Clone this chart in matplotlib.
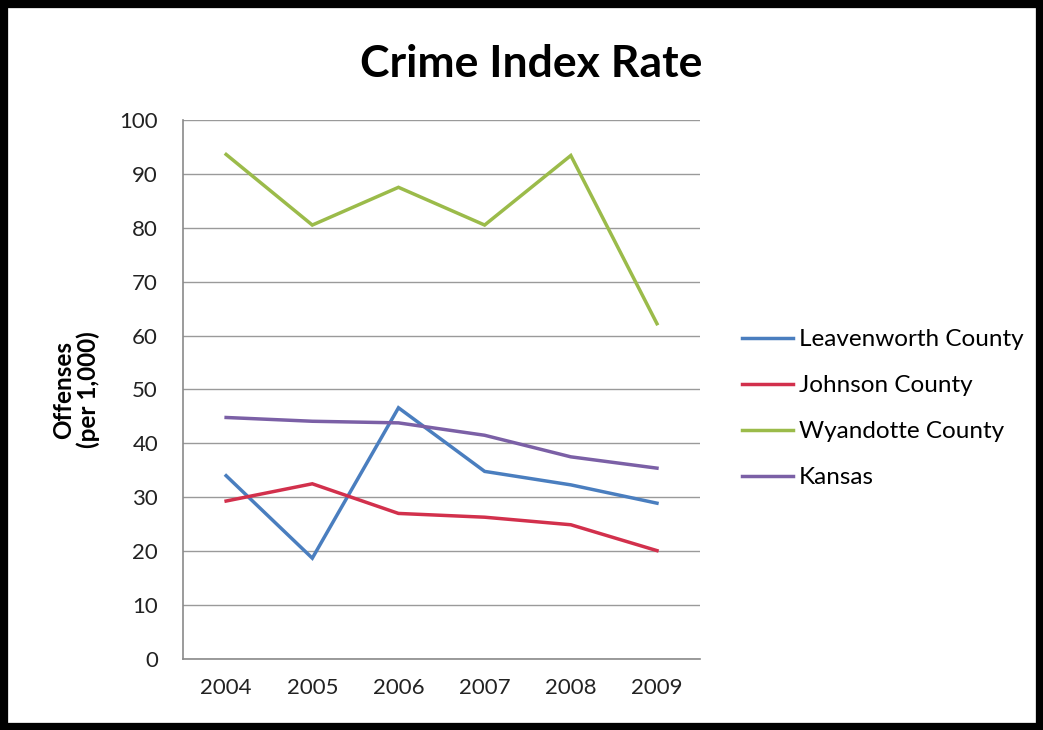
import numpy as np
import matplotlib
matplotlib.use("Agg")
from matplotlib import pyplot as plt
from matplotlib.patches import Rectangle

# data
years = ["2004", "2005", "2006", "2007", "2008", "2009"]
leavenworth = [34.0, 18.7, 46.6, 34.8, 32.3, 28.9]
johnson = [29.3, 32.5, 27.0, 26.3, 24.9, 20.1]
wyandotte = [93.6, 80.5, 87.5, 80.5, 93.4, 62.2]
kansas = [44.8, 44.1, 43.8, 41.5, 37.5, 35.4]

series_names = ["Leavenworth County", "Johnson County", "Wyandotte County", "Kansas"]
series_colors = ["#4A7EBF", "#D2304C", "#9BBB4A", "#7B60A6"]

plt.rcParams['font.family'] = ['Lato', 'DejaVu Sans']

fig = plt.figure(figsize=(10.43, 7.30), dpi=100)
ax = fig.add_axes([0.1755, 0.0973, 0.4957, 0.7384])

x = np.arange(len(years))
for vals, name, col in zip([leavenworth, johnson, wyandotte, kansas], series_names, series_colors):
    ax.plot(x, vals, color=col, lw=2.5, label=name, solid_joinstyle='miter')

ax.set_xlim(-0.5, len(years) - 0.5)
ax.set_ylim(0, 100)
ax.set_yticks(np.arange(0, 101, 10))
ax.set_xticks(x)
ax.set_xticklabels(years)
ax.grid(axis='y', color='#9A9A9A', lw=1.0)
ax.set_axisbelow(True)
for s in ['top', 'right']:
    ax.spines[s].set_visible(False)
for s in ['left', 'bottom']:
    ax.spines[s].set_color('#8A8A8A')
    ax.spines[s].set_linewidth(1.2)
ax.tick_params(axis='both', length=0, labelsize=16, colors='#222222')
ax.tick_params(axis='y', pad=18)
ax.tick_params(axis='x', pad=14)

fig.text(0.509, 0.913, "Crime Index Rate", ha='center', va='center',
         fontsize=32, fontweight='bold')
fig.text(0.073, 0.466, "Offenses\n(per 1,000)", ha='center', va='center',
         rotation=90, fontsize=17.5, fontweight='bold', linespacing=1.1)

fig.legend(loc='center left', bbox_to_anchor=(0.690, 0.440), frameon=False,
           fontsize=17.5, handlelength=2.1, handletextpad=0.25, labelspacing=1.03)

fig.add_artist(Rectangle((0, 0), 1, 1, transform=fig.transFigure, fill=False,
                         ec='black', lw=11))

fig.savefig("out.png", dpi=100)
